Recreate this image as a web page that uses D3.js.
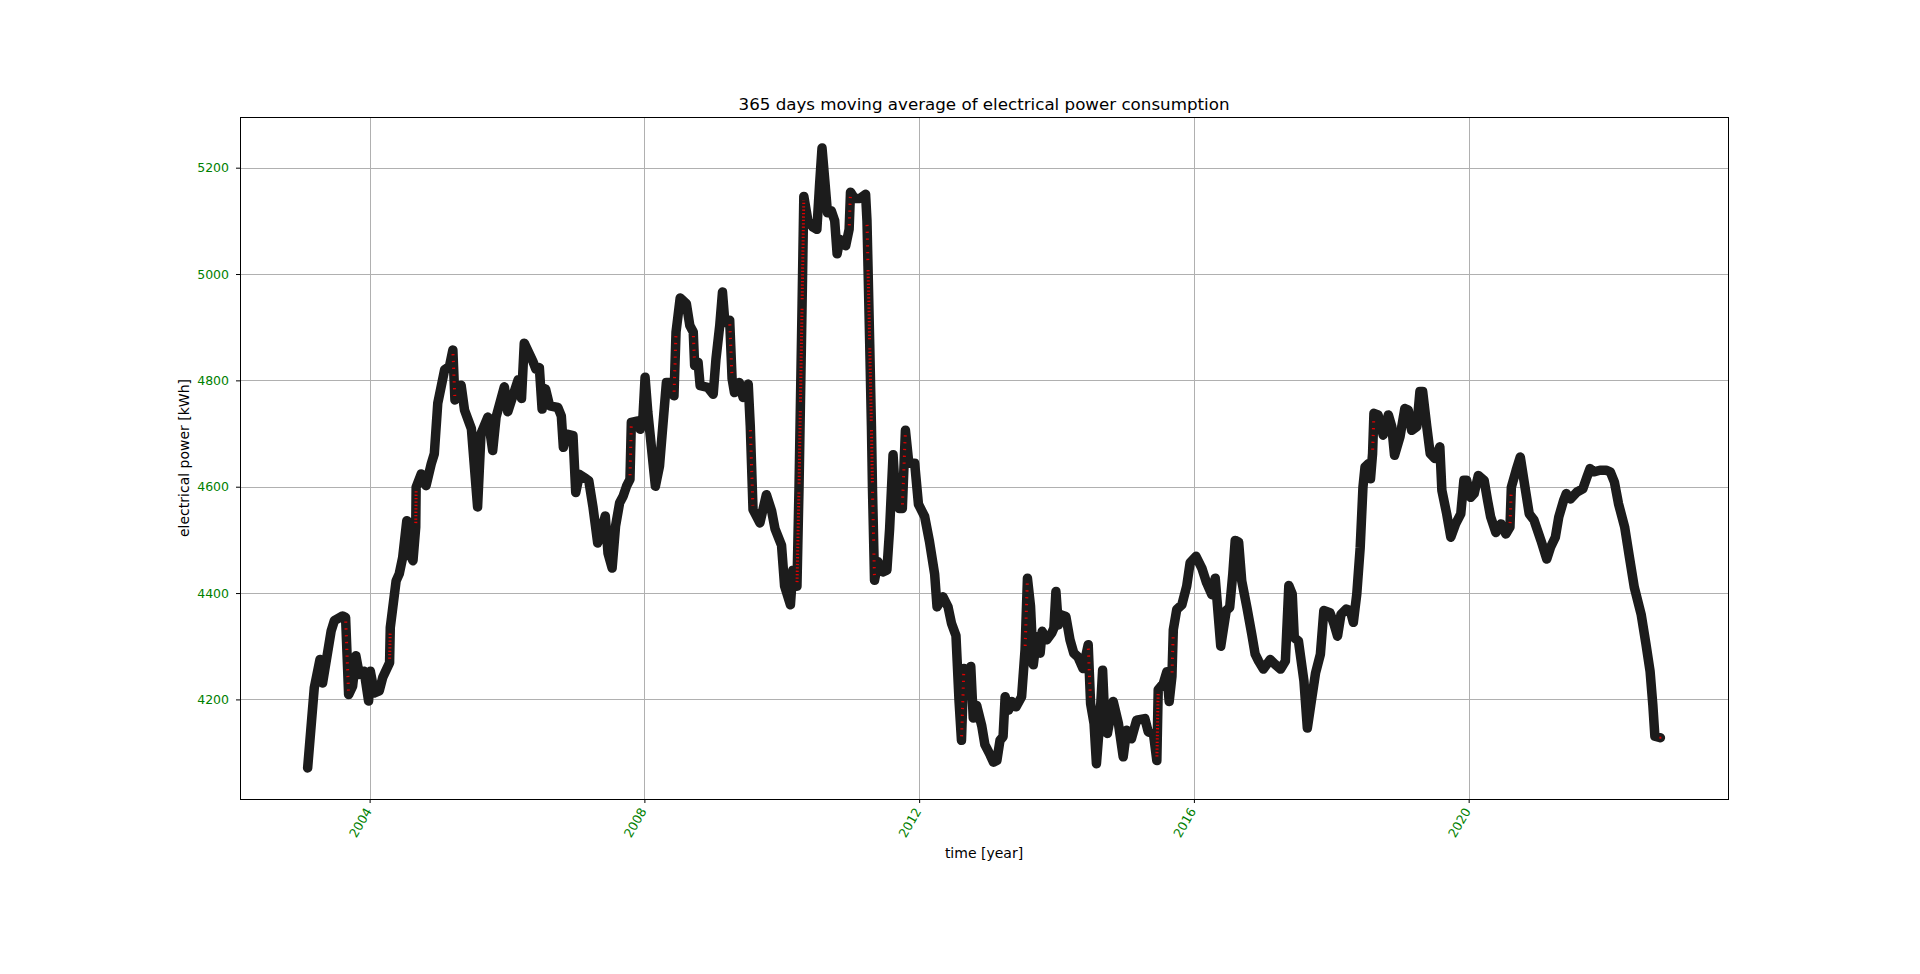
<!doctype html>
<html lang="en">
  <head>
    <meta charset="UTF-8" />
    <title>365 days moving average of electrical power consumption</title>
    <script src="https://unpkg.com/d3@7.9.0/dist/d3.min.js"></script>
    <style>
      body {
        margin: 0;
        background: #fff;
        overflow: hidden;
      }
      svg {
        display: block;
        font-family: 'DejaVu Sans', sans-serif;
      }
      .title {
        font-size: 16.7px;
        text-anchor: middle;
      }
      .axis-label {
        font-size: 14px;
        text-anchor: middle;
      }
      .axis text {
        fill: green;
        font-size: 12.5px;
        font-family: 'DejaVu Sans', sans-serif;
      }
      .axis line {
        stroke: #000;
      }
      .axis path,
      .grid path {
        display: none;
      }
      .grid line {
        stroke: #b0b0b0;
        stroke-width: 1;
        shape-rendering: crispEdges;
      }
      .frame {
        fill: none;
        stroke: #000;
        shape-rendering: crispEdges;
      }
    </style>
  </head>
  <body>
    <svg width="1920" height="974"></svg>

    <script>
      // 365 day moving average, [decimal year, kWh]
      const movingAvg = [
        [2003.097, 4071], [2003.194, 4222], [2003.277, 4275], [2003.315, 4231],
        [2003.44, 4329], [2003.486, 4348], [2003.607, 4357], [2003.65, 4354],
        [2003.694, 4209], [2003.752, 4225], [2003.8, 4282], [2003.85, 4247],
        [2003.92, 4253], [2003.985, 4197], [2004.01, 4253], [2004.07, 4212],
        [2004.14, 4216], [2004.19, 4241], [2004.29, 4269], [2004.3, 4335],
        [2004.385, 4423], [2004.43, 4436], [2004.48, 4467], [2004.54, 4536],
        [2004.58, 4474], [2004.63, 4461], [2004.67, 4524], [2004.676, 4599],
        [2004.75, 4624], [2004.82, 4602], [2004.895, 4643], [2004.94, 4662],
        [2004.99, 4757], [2005.09, 4820], [2005.16, 4826], [2005.21, 4857],
        [2005.24, 4763], [2005.33, 4791], [2005.38, 4744], [2005.48, 4709],
        [2005.57, 4562], [2005.62, 4700], [2005.72, 4731], [2005.79, 4668],
        [2005.84, 4731], [2005.96, 4788], [2006.01, 4741], [2006.16, 4801],
        [2006.21, 4766], [2006.25, 4870], [2006.375, 4836], [2006.42, 4821],
        [2006.47, 4824], [2006.51, 4746], [2006.56, 4784], [2006.62, 4752],
        [2006.74, 4749], [2006.79, 4733], [2006.82, 4674], [2006.87, 4699],
        [2006.96, 4696], [2007.0, 4589], [2007.055, 4623], [2007.13, 4617],
        [2007.19, 4611], [2007.25, 4563], [2007.32, 4494], [2007.39, 4526],
        [2007.43, 4545], [2007.47, 4475], [2007.53, 4447], [2007.58, 4526],
        [2007.64, 4570], [2007.69, 4582], [2007.74, 4601], [2007.79, 4614],
        [2007.81, 4721], [2007.91, 4724], [2007.94, 4708], [2007.98, 4733],
        [2008.01, 4806], [2008.05, 4740], [2008.1, 4677], [2008.16, 4601],
        [2008.22, 4639], [2008.32, 4796], [2008.36, 4796], [2008.43, 4771],
        [2008.46, 4891], [2008.52, 4955], [2008.61, 4944], [2008.66, 4903],
        [2008.71, 4891], [2008.73, 4828], [2008.78, 4834], [2008.81, 4790],
        [2008.92, 4787], [2009.0, 4774], [2009.04, 4840], [2009.095, 4903],
        [2009.135, 4966], [2009.17, 4909], [2009.24, 4913], [2009.275, 4803],
        [2009.31, 4777], [2009.38, 4796], [2009.435, 4768], [2009.51, 4793],
        [2009.54, 4714], [2009.58, 4557], [2009.68, 4532], [2009.775, 4585],
        [2009.85, 4555], [2009.9, 4521], [2009.995, 4490], [2010.04, 4413],
        [2010.125, 4378], [2010.16, 4443], [2010.22, 4413], [2010.25, 4598],
        [2010.27, 4752], [2010.295, 4945], [2010.32, 5146], [2010.38, 5100],
        [2010.455, 5088], [2010.51, 5084], [2010.55, 5169], [2010.585, 5237],
        [2010.625, 5177], [2010.665, 5115], [2010.72, 5119], [2010.77, 5100],
        [2010.805, 5038], [2010.845, 5065], [2010.93, 5053], [2010.98, 5084],
        [2011.0, 5154], [2011.06, 5142], [2011.135, 5142], [2011.22, 5150],
        [2011.24, 5100], [2011.255, 5015], [2011.28, 4868], [2011.305, 4714],
        [2011.32, 4598], [2011.34, 4482], [2011.35, 4424], [2011.4, 4459],
        [2011.475, 4440], [2011.53, 4443], [2011.57, 4521], [2011.62, 4660],
        [2011.66, 4575], [2011.71, 4559], [2011.755, 4559], [2011.8, 4706],
        [2011.85, 4644], [2011.935, 4644], [2011.99, 4567], [2012.08, 4544],
        [2012.15, 4497], [2012.225, 4436], [2012.26, 4374], [2012.345, 4393],
        [2012.42, 4374], [2012.47, 4343], [2012.535, 4320], [2012.58, 4196],
        [2012.615, 4123], [2012.65, 4258], [2012.69, 4227], [2012.75, 4262],
        [2012.786, 4165], [2012.835, 4189], [2012.91, 4150], [2012.955, 4115],
        [2013.03, 4096], [2013.08, 4082], [2013.13, 4085], [2013.175, 4123],
        [2013.22, 4130], [2013.25, 4205], [2013.3, 4180], [2013.345, 4196],
        [2013.41, 4186], [2013.49, 4205], [2013.54, 4293], [2013.575, 4428],
        [2013.62, 4375], [2013.66, 4265], [2013.71, 4318], [2013.76, 4287],
        [2013.79, 4328], [2013.855, 4312], [2013.93, 4325], [2013.96, 4334],
        [2013.99, 4403], [2014.025, 4340], [2014.07, 4359], [2014.135, 4356],
        [2014.195, 4312], [2014.25, 4287], [2014.31, 4280], [2014.385, 4258],
        [2014.46, 4303], [2014.495, 4192], [2014.545, 4155], [2014.58, 4079],
        [2014.63, 4161], [2014.67, 4255], [2014.7, 4167], [2014.74, 4136],
        [2014.825, 4196], [2014.9, 4155], [2014.97, 4092], [2015.02, 4142],
        [2015.09, 4126], [2015.165, 4161], [2015.285, 4164], [2015.335, 4139],
        [2015.41, 4136], [2015.46, 4085], [2015.48, 4218], [2015.555, 4230],
        [2015.605, 4252], [2015.64, 4196], [2015.68, 4243], [2015.7, 4331],
        [2015.75, 4369], [2015.825, 4378], [2015.895, 4413], [2015.945, 4457],
        [2016.03, 4469], [2016.115, 4447], [2016.185, 4419], [2016.26, 4397],
        [2016.31, 4428], [2016.39, 4300], [2016.47, 4367], [2016.52, 4373],
        [2016.565, 4436], [2016.6, 4499], [2016.65, 4496], [2016.695, 4423],
        [2016.77, 4373], [2016.84, 4323], [2016.89, 4285], [2016.94, 4272],
        [2017.01, 4257], [2017.11, 4275], [2017.18, 4266], [2017.26, 4257],
        [2017.33, 4272], [2017.38, 4414], [2017.43, 4398], [2017.46, 4316],
        [2017.52, 4310], [2017.6, 4235], [2017.65, 4146], [2017.7, 4190],
        [2017.77, 4250], [2017.84, 4285], [2017.89, 4367], [2017.98, 4363],
        [2018.04, 4341], [2018.09, 4319], [2018.14, 4360], [2018.22, 4370],
        [2018.275, 4367], [2018.32, 4345], [2018.37, 4398], [2018.42, 4486],
        [2018.46, 4599], [2018.49, 4637], [2018.54, 4643], [2018.57, 4615],
        [2018.6, 4662], [2018.62, 4738], [2018.68, 4735], [2018.755, 4697],
        [2018.83, 4735], [2018.88, 4713], [2018.92, 4659], [2019.0, 4694],
        [2019.07, 4747], [2019.12, 4744], [2019.17, 4706], [2019.245, 4713],
        [2019.29, 4779], [2019.33, 4779], [2019.39, 4713], [2019.44, 4662],
        [2019.51, 4653], [2019.58, 4675], [2019.61, 4593], [2019.68, 4549],
        [2019.74, 4505], [2019.81, 4530], [2019.885, 4549], [2019.93, 4612],
        [2019.97, 4612], [2020.03, 4580], [2020.08, 4587], [2020.14, 4621],
        [2020.225, 4612], [2020.275, 4574], [2020.32, 4543], [2020.395, 4514],
        [2020.47, 4530], [2020.54, 4511], [2020.6, 4524], [2020.62, 4599],
        [2020.69, 4631], [2020.75, 4656], [2020.81, 4606], [2020.88, 4549],
        [2020.95, 4537], [2021.05, 4499], [2021.135, 4464], [2021.19, 4486],
        [2021.26, 4505], [2021.31, 4543], [2021.38, 4574], [2021.42, 4587],
        [2021.48, 4577], [2021.575, 4590], [2021.66, 4596], [2021.72, 4618],
        [2021.765, 4634], [2021.82, 4628], [2021.91, 4631], [2022.0, 4631],
        [2022.06, 4628], [2022.12, 4609], [2022.18, 4568], [2022.27, 4524],
        [2022.34, 4467], [2022.41, 4411], [2022.51, 4360], [2022.58, 4304],
        [2022.64, 4253], [2022.68, 4190], [2022.71, 4131], [2022.79, 4128],
      ];

      const yTickValues = [4200, 4400, 4600, 4800, 5000, 5200];
      const xTickYears = [2004, 2008, 2012, 2016, 2020];

      const titleText = '365 days moving average of electrical power consumption';
      const xLabelText = 'time [year]';
      const yLabelText = 'electrical power [kWh]';

      const svg = d3.select('svg'),
        width = +svg.attr('width'),
        height = +svg.attr('height');

      const margin = { top: 117, right: 192, bottom: 175, left: 240 },
        innerWidth = width - margin.left - margin.right,
        innerHeight = height - margin.top - margin.bottom;

      // decimal year -> Date
      function toDate(yr) {
        const y0 = Math.floor(yr);
        const a = Date.UTC(y0, 0, 1),
          b = Date.UTC(y0 + 1, 0, 1);
        return new Date(a + (yr - y0) * (b - a));
      }

      const data = movingAvg.map((d) => ({ date: toDate(d[0]), value: d[1] }));

      // matplotlib style 5% margins
      const [t0, t1] = d3.extent(data, (d) => d.date);
      const tPad = (t1 - t0) * 0.05;
      const x = d3
        .scaleUtc()
        .domain([new Date(+t0 - tPad), new Date(+t1 + tPad)])
        .range([0, innerWidth]);

      const [v0, v1] = d3.extent(data, (d) => d.value);
      const vPad = (v1 - v0) * 0.05;
      const y = d3
        .scaleLinear()
        .domain([v0 - vPad, v1 + vPad])
        .range([innerHeight, 0]);

      const g = svg
        .append('g')
        .attr('transform', `translate(${margin.left},${margin.top})`);

      // grid
      g.append('g')
        .attr('class', 'grid')
        .call(d3.axisLeft(y).tickValues(yTickValues).tickSize(-innerWidth).tickFormat(''));
      g.append('g')
        .attr('class', 'grid')
        .attr('transform', `translate(0,${innerHeight})`)
        .call(
          d3
            .axisBottom(x)
            .tickValues(xTickYears.map((yr) => toDate(yr)))
            .tickSize(-innerHeight)
            .tickFormat(''),
        );

      // the series: thick dark line
      const line = d3
        .line()
        .x((d) => x(d.date))
        .y((d) => y(d.value));

      g.append('path')
        .datum(data)
        .attr('d', line)
        .attr('fill', 'none')
        .attr('stroke', '#1c1c1c')
        .attr('stroke-width', 9.5)
        .attr('stroke-linejoin', 'round')
        .attr('stroke-linecap', 'round');

      // red marker faces show through on the steepest stretches
      const steep = [];
      for (let i = 1; i < data.length; i++) {
        const xa = x(data[i - 1].date),
          ya = y(data[i - 1].value),
          xb = x(data[i].date),
          yb = y(data[i].value);
        const dy = Math.abs(yb - ya),
          dx = Math.abs(xb - xa);
        const slope = dy / Math.max(dx, 0.5);
        if (dy > 18 && slope > 24) {
          const sh = 4 / Math.hypot(xb - xa, yb - ya);
          steep.push({
            x1: xa + (xb - xa) * sh,
            y1: ya + (yb - ya) * sh,
            x2: xb - (xb - xa) * sh,
            y2: yb - (yb - ya) * sh,
            gap: slope > 45 ? 2.1 : 5.5,
          });
        }
      }

      g.append('g')
        .selectAll('line')
        .data(steep)
        .enter()
        .append('line')
        .attr('x1', (d) => d.x1)
        .attr('y1', (d) => d.y1)
        .attr('x2', (d) => d.x2)
        .attr('y2', (d) => d.y2)
        .attr('stroke', '#e00000')
        .attr('stroke-width', 3)
        .attr('stroke-dasharray', (d) => `1.3 ${d.gap}`);

      const last = data[data.length - 1];
      g.append('rect')
        .attr('x', x(last.date) - 1)
        .attr('y', y(last.value) - 1)
        .attr('width', 2)
        .attr('height', 2)
        .attr('fill', '#e00000');

      // axes
      g.append('g')
        .attr('class', 'axis')
        .call(
          d3
            .axisLeft(y)
            .tickValues(yTickValues)
            .tickSize(4)
            .tickPadding(7)
            .tickFormat(d3.format('d')),
        );

      const xAxis = g
        .append('g')
        .attr('class', 'axis')
        .attr('transform', `translate(0,${innerHeight})`)
        .call(
          d3
            .axisBottom(x)
            .tickValues(xTickYears.map((yr) => toDate(yr)))
            .tickSize(4)
            .tickFormat(d3.utcFormat('%Y')),
        );

      xAxis
        .selectAll('text')
        .attr('x', null)
        .attr('y', null)
        .attr('dy', null)
        .style('text-anchor', 'end')
        .attr('transform', 'translate(2,12) rotate(-60)');

      g.append('rect')
        .attr('class', 'frame')
        .attr('x', 0.5)
        .attr('y', 0.5)
        .attr('width', innerWidth)
        .attr('height', innerHeight);

      // texts
      svg
        .append('text')
        .attr('class', 'title')
        .attr('x', margin.left + innerWidth / 2)
        .attr('y', 109.5)
        .text(titleText);

      svg
        .append('text')
        .attr('class', 'axis-label')
        .attr('x', margin.left + innerWidth / 2)
        .attr('y', 858)
        .text(xLabelText);

      svg
        .append('text')
        .attr('class', 'axis-label')
        .attr('transform', `translate(189,${margin.top + innerHeight / 2}) rotate(-90)`)
        .text(yLabelText);
    </script>
  </body>
</html>
